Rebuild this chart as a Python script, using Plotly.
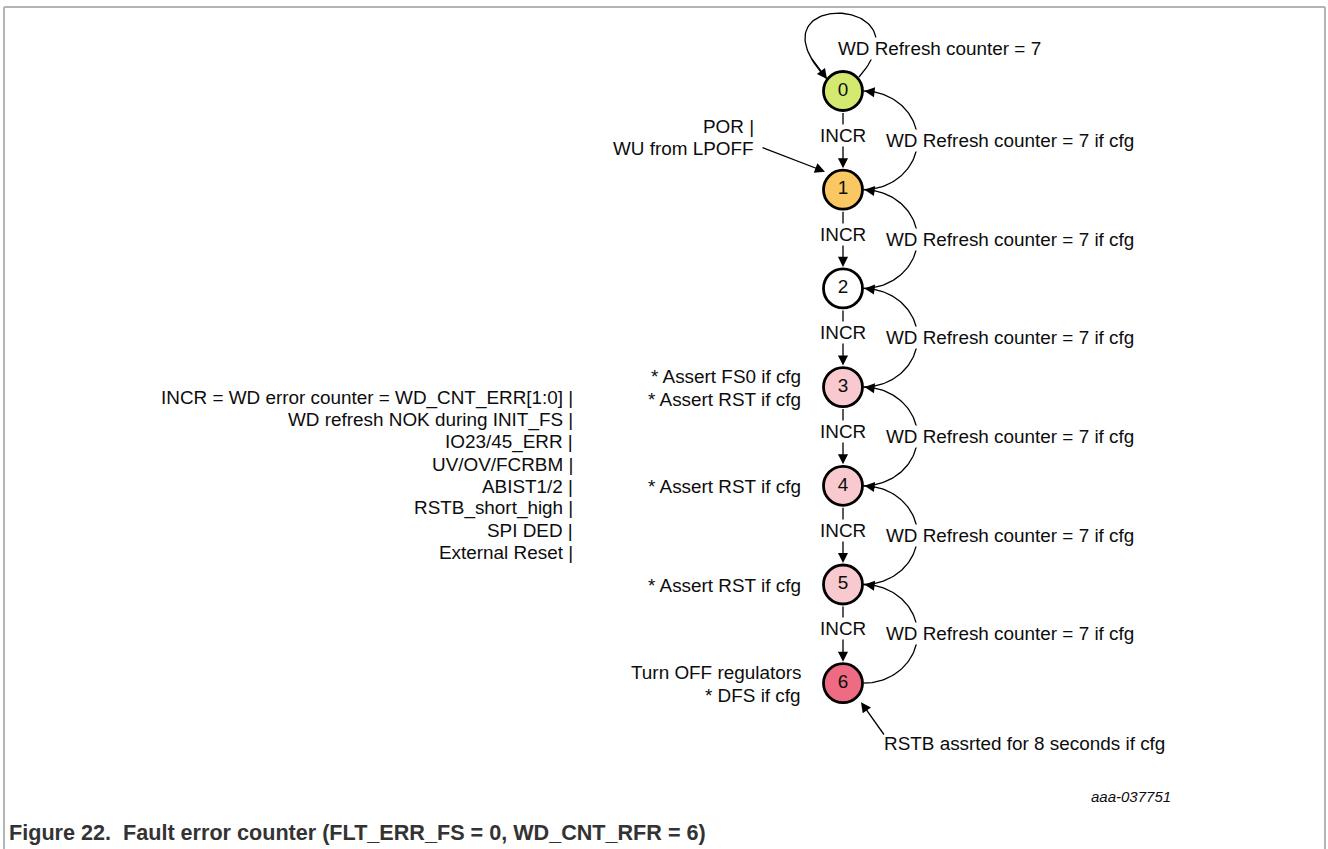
import numpy as np
import plotly.graph_objects as go

# ---------------- data ----------------
states = ["0", "1", "2", "3", "4", "5", "6"]
state_fill = ["#d4e96f", "#f9c862", "#ffffff", "#f8cad0", "#f8cad0", "#f8cad0", "#ef6b83"]
incr_label = "INCR"
self_loop_label = "WD Refresh counter = 7"
refresh_label = "WD Refresh counter = 7 if cfg"
state_notes = {
    3: ["* Assert FS0 if cfg", "* Assert RST if cfg"],
    4: ["* Assert RST if cfg"],
    5: ["* Assert RST if cfg"],
    6: ["Turn OFF regulators", "* DFS if cfg"],
}
entry_lines = ["POR |", "WU from LPOFF"]
incr_sources = [
    "INCR = WD error counter = WD_CNT_ERR[1:0] |",
    "WD refresh NOK during INIT_FS |",
    "IO23/45_ERR |",
    "UV/OV/FCRBM |",
    "ABIST1/2 |",
    "RSTB_short_high |",
    "SPI DED |",
    "External Reset |",
]
rstb_label = "RSTB assrted for 8 seconds if cfg"
doc_id = "aaa-037751"
caption = "Figure 22.\u00a0 Fault error counter (FLT_ERR_FS = 0, WD_CNT_RFR = 6)"

# ---------------- layout geometry ----------------
W, H = 1328, 849
NX, Y0, DY, R = 843, 91, 98.7, 20.5
FONT = "Liberation Sans, Arial, sans-serif"
FS = 18.9
TXT = "#0d0d0d"
node_y = Y0 + DY * np.arange(len(states))

fig = go.Figure()
ann = []


def arrow(tip, tail, width=1.3):
    return dict(x=tip[0], y=tip[1], ax=tail[0], ay=tail[1], xref="x", yref="y",
                axref="x", ayref="y", text="", showarrow=True, arrowhead=2,
                arrowsize=1.55, arrowwidth=width, arrowcolor="#000000", standoff=0)


def label(x, y, text, xanchor="left", size=FS, bg=None, color=TXT, bold=False, italic=False):
    t = f"<b>{text}</b>" if bold else text
    t = f"<i>{t}</i>" if italic else t
    d = dict(x=x, y=y, xref="x", yref="y", text=t, showarrow=False, xanchor=xanchor,
             yanchor="middle", font=dict(family=FONT, size=size, color=color), borderpad=0)
    if bg:
        d["bgcolor"] = bg
    return d


# self loop on state 0 (cubic bezier)
P = np.array([[859, 77], [932, -6], [743, -11], [827, 79]], float)
t = np.linspace(0, 1, 80)[:, None]
bez = (1 - t) ** 3 * P[0] + 3 * (1 - t) ** 2 * t * P[1] + 3 * (1 - t) * t ** 2 * P[2] + t ** 3 * P[3]
fig.add_trace(go.Scatter(x=bez[:, 0], y=bez[:, 1], mode="lines",
                         line=dict(color="#000000", width=1.3), hoverinfo="skip"))
ann.append(arrow(P[3], bez[-8]))

# refresh arcs i+1 -> i
rx = 54
for i in range(len(states) - 1):
    cy = (node_y[i] + node_y[i + 1]) / 2
    ry = DY / 2
    ang = np.linspace(0, np.pi, 80)  # 0 -> bottom (state i+1), pi -> top (state i)
    xs = NX + R + rx * np.sin(ang)
    ys = cy + ry * np.cos(ang)
    fig.add_trace(go.Scatter(x=xs, y=ys, mode="lines",
                             line=dict(color="#000000", width=1.3), hoverinfo="skip"))
    ann.append(arrow((NX + R + 1, node_y[i]), (xs[-7], ys[-7])))

# INCR arrows
for i in range(len(states) - 1):
    ann.append(arrow((NX, node_y[i + 1] - R - 1), (NX, node_y[i] + R)))

# entry arrows
ann.append(arrow((825, node_y[1] - 18), (761, 147)))
ann.append(arrow((861, node_y[6] + 19), (885, 736)))

# nodes
fig.add_trace(go.Scatter(
    x=[NX] * len(states), y=node_y, mode="markers+text", text=states,
    textposition="middle center", textfont=dict(family=FONT, size=FS, color=TXT),
    marker=dict(size=39, color=state_fill, line=dict(color="#000000", width=2.8)),
    hoverinfo="skip"))

# labels with white backgrounds (mask lines)
ann.append(label(837, 48, self_loop_label, bg="#ffffff"))
for i in range(len(states) - 1):
    mid = (node_y[i] + node_y[i + 1]) / 2
    ann.append(label(NX, mid - 5, incr_label, xanchor="center", bg="#ffffff"))
    ann.append(label(885, mid, refresh_label, bg="#ffffff"))

# notes left of states
for k, lines in state_notes.items():
    n = len(lines)
    for j, s in enumerate(lines):
        ann.append(label(802, node_y[k] + (j - (n - 1) / 2) * 22.5 + 1, s, xanchor="right"))

for j, s in enumerate(entry_lines):
    ann.append(label(755, 126 + 22 * j, s, xanchor="right"))

for j, s in enumerate(incr_sources):
    ann.append(label(574, 398 + 22 * j, s, xanchor="right"))

ann.append(label(883, 743, rstb_label))
ann.append(label(1172, 796, doc_id, xanchor="right", size=15, italic=True))
ann.append(label(8, 832, caption, size=21.6, bold=True, color="#333333"))

# frame
shapes = [
    dict(type="line", x0=4, x1=4, y0=7, y1=H, xref="x", yref="y", line=dict(color="#b4b4b4", width=2)),
    dict(type="line", x0=4, x1=1325, y0=7, y1=7, xref="x", yref="y", line=dict(color="#b4b4b4", width=2)),
    dict(type="line", x0=1325, x1=1325, y0=7, y1=H, xref="x", yref="y", line=dict(color="#b4b4b4", width=2)),
]

fig.update_layout(
    width=W, height=H, margin=dict(l=0, r=0, t=0, b=0),
    paper_bgcolor="#ffffff", plot_bgcolor="#ffffff", showlegend=False,
    xaxis=dict(range=[0, W], visible=False, fixedrange=True),
    yaxis=dict(range=[H, 0], visible=False, fixedrange=True),
    annotations=ann, shapes=shapes,
)
fig.write_html(
    "out.html",
    config={"displayModeBar": False},
    post_script="document.body.style.margin='0';document.body.style.overflow='hidden';",
)
